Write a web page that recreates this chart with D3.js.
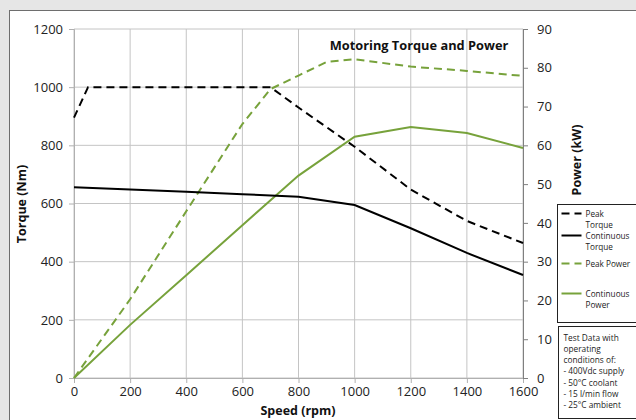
<!DOCTYPE html>
<html>
<head>
<meta charset="utf-8">
<script src="https://cdn.jsdelivr.net/npm/d3@7"></script>
<style>
  body { margin: 0; background: #e6e6e6; }
  svg { display: block; font-family: "Open Sans", sans-serif; }
</style>
</head>
<body>
<div id="chart"></div>
<script>
const svgWidth = 636;
const svgHeight = 420;

const margin = { top: 29, right: 113, bottom: 42, left: 74 };
const width = svgWidth - margin.left - margin.right;
const height = svgHeight - margin.top - margin.bottom;

// data
const peakTorqueSpeed = [0, 50, 700, 800, 1000, 1200, 1400, 1600];
const peakTorque = [895, 1000, 1000, 930, 795, 648, 540, 464];

const contTorqueSpeed = [0, 200, 400, 600, 800, 1000, 1200, 1400, 1600];
const contTorque = [656, 648, 640, 632, 623, 595, 515, 430, 354];

const peakPowerSpeed = [0, 200, 400, 600, 700, 800, 900, 1000, 1200, 1400, 1600];
const peakPower = [0, 20.3, 43, 65.5, 74.5, 78, 81.5, 82.2, 80.3, 79.2, 77.9];

const contPowerSpeed = [0, 200, 400, 600, 800, 1000, 1200, 1400, 1600];
const contPower = [0, 13.7, 26.5, 39.4, 52.2, 62.2, 64.7, 63.2, 59.3];

const xTicks = [0, 200, 400, 600, 800, 1000, 1200, 1400, 1600];
const yTicks = [0, 200, 400, 600, 800, 1000, 1200];
const y2Ticks = [0, 10, 20, 30, 40, 50, 60, 70, 80, 90];

const noteLines = ["Test Data with", "operating", "conditions of:", "- 400Vdc supply",
  "- 50°C coolant", "- 15 l/min flow", "- 25°C ambient"];

const green = "#77a23b";

const svg = d3.select("#chart")
  .append("svg")
  .attr("width", svgWidth)
  .attr("height", svgHeight);

// chart area: white panel with a border, clipped by the window on the right/bottom
svg.append("rect")
  .attr("x", 9.5).attr("y", 10.5)
  .attr("width", svgWidth).attr("height", svgHeight)
  .attr("fill", "#fff")
  .attr("stroke", "#6e6e6e");

const chartGroup = svg.append("g")
  .attr("transform", `translate(${margin.left}, ${margin.top})`);

const x = d3.scaleLinear().domain([0, 1600]).range([0, width]);
const y = d3.scaleLinear().domain([0, 1200]).range([height, 0]);
const y2 = d3.scaleLinear().domain([0, 90]).range([height, 0]);

// gridlines
chartGroup.append("g")
  .selectAll("line")
  .data(xTicks)
  .join("line")
  .attr("x1", d => x(d)).attr("x2", d => x(d))
  .attr("y1", 0).attr("y2", height)
  .attr("stroke", "#c4c4c4");

chartGroup.append("g")
  .selectAll("line")
  .data(yTicks)
  .join("line")
  .attr("x1", 0).attr("x2", width)
  .attr("y1", d => y(d)).attr("y2", d => y(d))
  .attr("stroke", "#c4c4c4");

// axes
const fmt = d3.format("d");
const bottomAxis = d3.axisBottom(x).tickValues(xTicks).tickFormat(fmt).tickSize(5).tickPadding(4);
const leftAxis = d3.axisLeft(y).tickValues(yTicks).tickFormat(fmt).tickSize(5).tickPadding(6);
const rightAxis = d3.axisRight(y2).tickValues(y2Ticks).tickFormat(fmt).tickSize(5).tickPadding(9);

const xAxisG = chartGroup.append("g")
  .attr("transform", `translate(0, ${height})`)
  .call(bottomAxis);
const yAxisG = chartGroup.append("g").call(leftAxis);
const y2AxisG = chartGroup.append("g")
  .attr("transform", `translate(${width}, 0)`)
  .call(rightAxis);

[xAxisG, yAxisG].forEach(g => {
  g.select(".domain").attr("stroke", "#b0b0b0");
  g.selectAll(".tick line").attr("stroke", "#b0b0b0");
});
y2AxisG.select(".domain").attr("stroke", "#7f7f7f");
y2AxisG.selectAll(".tick line").attr("stroke", "#7f7f7f");

[xAxisG, yAxisG, y2AxisG].forEach(g => {
  g.selectAll(".tick text")
    .attr("font-family", "Open Sans, sans-serif")
    .attr("font-size", "13px")
    .attr("fill", "#222");
});

// lines
function drawLine(xs, ys, scaleY, color, dash) {
  const pts = xs.map((s, i) => [s, ys[i]]);
  chartGroup.append("path")
    .datum(pts)
    .attr("fill", "none")
    .attr("stroke", color)
    .attr("stroke-width", 2)
    .attr("stroke-dasharray", dash)
    .attr("d", d3.line().x(d => x(d[0])).y(d => scaleY(d[1])));
}

drawLine(contPowerSpeed, contPower, y2, green, null);
drawLine(peakPowerSpeed, peakPower, y2, green, "8,5");
drawLine(contTorqueSpeed, contTorque, y, "#000", null);
drawLine(peakTorqueSpeed, peakTorque, y, "#000", "8,5");

// titles
chartGroup.append("text")
  .attr("x", 345).attr("y", 21)
  .attr("text-anchor", "middle")
  .attr("font-weight", "bold")
  .attr("font-size", "12.8px")
  .attr("fill", "#111")
  .text("Motoring Torque and Power");

svg.append("text")
  .attr("transform", "rotate(-90)")
  .attr("x", -204).attr("y", 26)
  .attr("text-anchor", "middle")
  .attr("font-weight", "bold")
  .attr("font-size", "12.5px")
  .attr("fill", "#111")
  .text("Torque (Nm)");

svg.append("text")
  .attr("transform", "rotate(-90)")
  .attr("x", -160).attr("y", 581)
  .attr("text-anchor", "middle")
  .attr("font-weight", "bold")
  .attr("font-size", "12.5px")
  .attr("fill", "#111")
  .text("Power (kW)");

svg.append("text")
  .attr("x", 298).attr("y", 415)
  .attr("text-anchor", "middle")
  .attr("font-weight", "bold")
  .attr("font-size", "12.5px")
  .attr("fill", "#111")
  .text("Speed (rpm)");

// legend
const legend = svg.append("g").attr("transform", "translate(557.5, 204.5)");
legend.append("rect")
  .attr("width", 100).attr("height", 118)
  .attr("fill", "#fff").attr("stroke", "#222");

const legendItems = [
  { label: ["Peak", "Torque"], color: "#000", dash: "8,5", ly: 9 },
  { label: ["Continuous", "Torque"], color: "#000", dash: null, ly: 31 },
  { label: ["Peak Power"], color: green, dash: "8,5", ly: 59 },
  { label: ["Continuous", "Power"], color: green, dash: null, ly: 89 }
];

legendItems.forEach(item => {
  legend.append("line")
    .attr("x1", 4).attr("x2", 24)
    .attr("y1", item.ly).attr("y2", item.ly)
    .attr("stroke", item.color)
    .attr("stroke-width", 2)
    .attr("stroke-dasharray", item.dash);
  item.label.forEach((t, i) => {
    legend.append("text")
      .attr("x", 28).attr("y", item.ly + 3 + i * 11.5)
      .attr("font-size", "8.2px")
      .attr("fill", "#222")
      .text(t);
  });
});

// test conditions note
const note = svg.append("g").attr("transform", "translate(558.5, 326.5)");
note.append("rect")
  .attr("width", 100).attr("height", 92)
  .attr("fill", "#fff").attr("stroke", "#222");
note.selectAll("text")
  .data(noteLines)
  .join("text")
  .attr("x", 5)
  .attr("y", (d, i) => 14 + i * 11.3)
  .attr("font-size", "8.3px")
  .attr("fill", "#222")
  .text(d => d);
</script>
</body>
</html>
